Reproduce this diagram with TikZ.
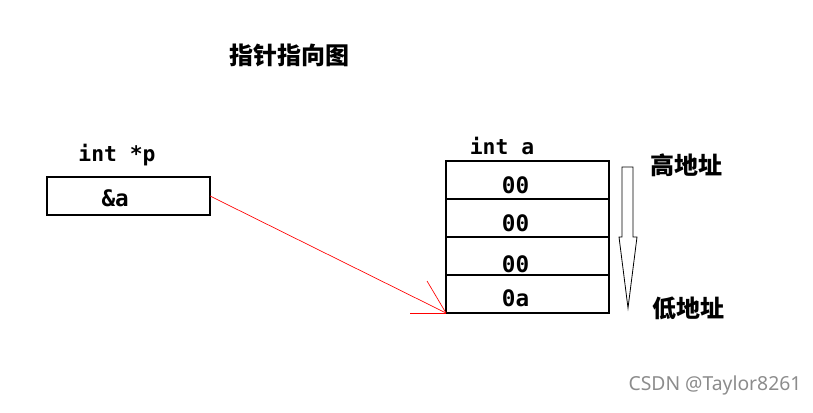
\documentclass[tikz,border=0pt]{standalone}
\usepackage{fontspec}
\setmonofont{DejaVu Sans Mono}
\newfontfamily\cjkfont{Noto Sans CJK SC}
\newfontfamily\markfont{Noto Sans}
\usetikzlibrary{positioning}
\tikzset{
    cell/.style={draw,line width=0.8pt,minimum width=122.25pt,minimum height=28.5pt,inner sep=0pt,outer sep=0pt},
    val/.style={font=\ttfamily\bfseries\fontsize{17}{17}\selectfont},
    decl/.style={font=\ttfamily\bfseries\fontsize{16}{16}\selectfont},
    hanzi/.style={font=\cjkfont\bfseries\fontsize{18}{18}\selectfont},
    ptrline/.style={red,line width=0.5pt}
}
\begin{document}
\begin{tikzpicture}[x=0.75pt,y=-0.75pt]
    \useasboundingbox (0,0) rectangle (813,413);
    \node[hanzi] (title) at (289,55) {指针指向图};
    % the pointer
    \node[decl] (pname) at (117,155) {int *p};
    \node[cell,label={[val,xshift=-10pt,yshift=-2pt]center:\&a}] (p) at (128.5,196) {};
    % the int, high address on top
    \node[decl] (aname) at (502,146) {int a};
    \node[cell,label={[val,xshift=-9pt,yshift=-4pt]center:00}] (c1) at (527.5,180) {};
    \node[cell,below=0pt of c1,label={[val,xshift=-9pt,yshift=-4pt]center:00}] (c2) {};
    \node[cell,below=0pt of c2,label={[val,xshift=-9pt,yshift=-6pt]center:00}] (c3) {};
    \node[cell,below=0pt of c3,label={[val,xshift=-9pt,yshift=-3pt]center:0a}] (c4) {};
    \draw[ptrline] (p.east) -- (c4.south west);
    \draw[ptrline] (c4.south west) -- ++(-36,0);
    \draw[ptrline] (c4.south west) -- ++(-19,-32);
    % address direction
    \draw[line width=0.6pt] (622,167) -- (633,167) -- (633,237) -- (637,237) -- (628,308) -- (619,237) -- (622,237) -- cycle;
    \node[hanzi] (high) at (686,165) {高地址};
    \node[hanzi] (low) at (688,308) {低地址};
    \node[text=black!45,font=\markfont\fontsize{14.5}{14.5}\selectfont] (mark) at (715,385) {CSDN @Taylor8261};
\end{tikzpicture}
\end{document}
